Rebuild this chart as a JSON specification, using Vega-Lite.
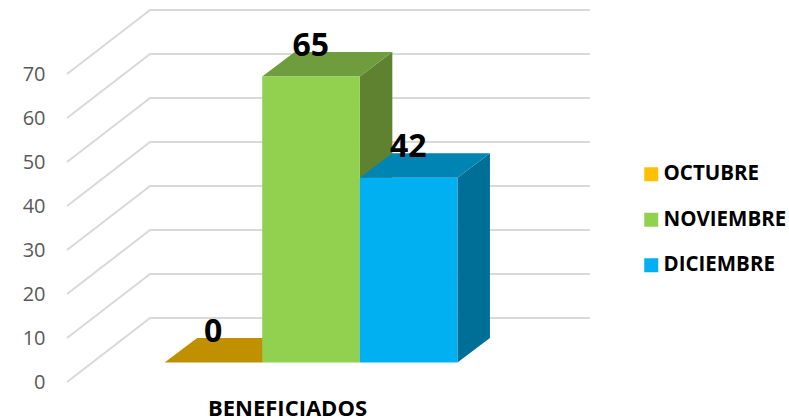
{
"$schema":"https://vega.github.io/schema/vega-lite/v6.json",
"width":523,"height":382,
"autosize":{"type":"none"},
"padding":{"left":67,"top":0,"right":199,"bottom":38},
"background":"white",
"config":{"view":{"stroke":null},"font":"Open Sans"},
"datasets":{
"meses":[{"mes":"OCTUBRE","valor":0,"orden":1},{"mes":"NOVIEMBRE","valor":65,"orden":2},{"mes":"DICIEMBRE","valor":42,"orden":3}],
"escala":[{"tick":0},{"tick":10},{"tick":20},{"tick":30},{"tick":40},{"tick":50},{"tick":60},{"tick":70}]
},
"layer":[
{"data":{"name":"escala"},
"transform":[{"calculate":"[0,0.851,5.358]","as":"gx"},{"calculate":"[0,14.545,14.545]","as":"gy"},{"flatten":["gx","gy"]},{"calculate":"datum.tick+datum.gy","as":"py"}],
"mark":{"type":"line","stroke":"#D9D9D9","strokeWidth":2},
"encoding":{
"x":{"field":"gx","type":"quantitative","scale":{"domain":[0,5.358],"nice":false,"zero":false},
"axis":{"title":"BENEFICIADOS","titleFont":"Open Sans","titleFontSize":22,"titleFontWeight":"bold","titleColor":"#000000","titleX":220,"titleY":33,"titleBaseline":"alphabetic","titleAnchor":"middle","titleAlign":"center","labels":false,"ticks":false,"domain":false,"grid":false}},
"y":{"field":"py","type":"quantitative","scale":{"domain":[0,86.82],"nice":false,"zero":false},
"axis":{"title":null,"values":[0,10,20,30,40,50,60,70],"domain":false,"ticks":false,"grid":false,"labelPadding":22,"labelFont":"Open Sans","labelFontSize":20,"labelColor":"#595959"}},
"detail":{"field":"tick"}}},
{"data":{"name":"meses"},
"transform":[{"calculate":"[0,1]","as":"d"},{"flatten":["d"]},{"calculate":"datum.orden+1+datum.d*0.333","as":"sx"},{"calculate":"4.43+datum.d*5.57","as":"sy"},{"calculate":"datum.sy+datum.valor","as":"sy2"}],
"mark":{"type":"area","orient":"vertical","line":false},
"encoding":{
"x":{"field":"sx","type":"quantitative","scale":{"domain":[0,5.358],"nice":false,"zero":false}},
"y":{"field":"sy","type":"quantitative","scale":{"domain":[0,86.82],"nice":false,"zero":false}},
"y2":{"field":"sy2"},
"detail":{"field":"mes"},
"fill":{"field":"mes","type":"nominal","legend":null,"scale":{"domain":["OCTUBRE","NOVIEMBRE","DICIEMBRE"],"range":["#9C7500","#5F8231","#006F97"]}}}},
{"data":{"name":"meses"},
"transform":[{"calculate":"[0,1]","as":"d"},{"flatten":["d"]},{"calculate":"datum.orden+datum.d*0.333","as":"tx"},{"calculate":"datum.tx+1","as":"tx2"},{"calculate":"datum.valor+4.43+datum.d*5.57","as":"ty"}],
"mark":{"type":"area","orient":"horizontal","line":false},
"encoding":{
"y":{"field":"ty","type":"quantitative","scale":{"domain":[0,86.82],"nice":false,"zero":false}},
"x":{"field":"tx","type":"quantitative","scale":{"domain":[0,5.358],"nice":false,"zero":false}},
"x2":{"field":"tx2"},
"detail":{"field":"mes"},
"fill":{"field":"mes","type":"nominal","legend":null,"scale":{"domain":["OCTUBRE","NOVIEMBRE","DICIEMBRE"],"range":["#C09000","#6F9C3C","#0084B4"]}}}},
{"data":{"name":"meses"},
"transform":[{"calculate":"datum.orden+1","as":"fx2"},{"calculate":"4.43","as":"fy"},{"calculate":"datum.valor+4.43","as":"fy2"}],
"mark":{"type":"rect"},
"encoding":{
"x":{"field":"orden","type":"quantitative","scale":{"domain":[0,5.358],"nice":false,"zero":false}},
"x2":{"field":"fx2"},
"y":{"field":"fy","type":"quantitative","scale":{"domain":[0,86.82],"nice":false,"zero":false}},
"y2":{"field":"fy2"},
"fill":{"field":"mes","type":"nominal","scale":{"domain":["OCTUBRE","NOVIEMBRE","DICIEMBRE"],"range":["#FFC000","#92D050","#00B0F0"]},
"legend":{"title":null,"orient":"none","legendX":574,"legendY":164,"symbolType":"square","symbolSize":196,"symbolStrokeWidth":0,"labelFont":"Open Sans","labelFontSize":20.5,"labelFontWeight":"bold","labelColor":"#000000","labelOffset":2,"rowPadding":24.5,"labelLimit":200}}}},
{"data":{"name":"meses"},
"transform":[{"calculate":"datum.orden+0.497","as":"lx"},{"calculate":"datum.valor+9.1","as":"ly"}],
"mark":{"type":"text","font":"Open Sans","fontSize":32,"fontWeight":"bold","color":"#000000","align":"center","baseline":"alphabetic"},
"encoding":{
"x":{"field":"lx","type":"quantitative","scale":{"domain":[0,5.358],"nice":false,"zero":false}},
"y":{"field":"ly","type":"quantitative","scale":{"domain":[0,86.82],"nice":false,"zero":false}},
"text":{"field":"valor","type":"quantitative"}}}
],
"resolve":{"scale":{"fill":"independent"}}
}
